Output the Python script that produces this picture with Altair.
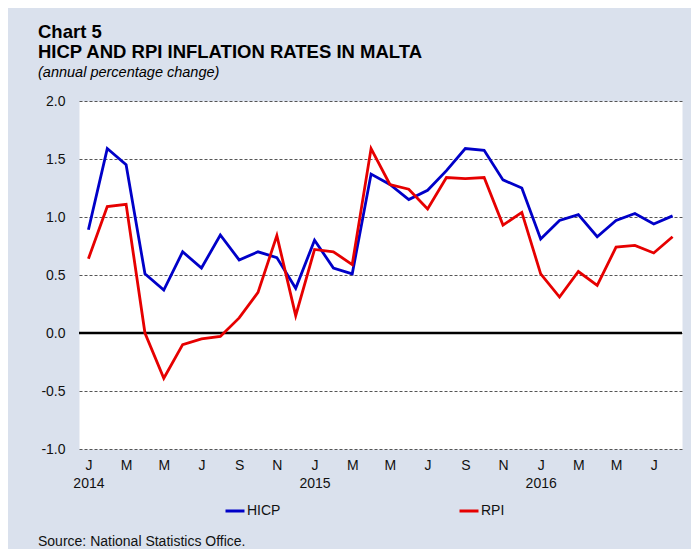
import altair as alt
import pandas as pd

# ---- data ----
MONTH_INDEX = list(range(32))  # Jan 2014 .. Aug 2016
HICP = [0.89, 1.59, 1.45, 0.51, 0.37, 0.70, 0.56, 0.845, 0.63, 0.70, 0.65, 0.385,
        0.80, 0.56, 0.51, 1.37, 1.28, 1.15, 1.23, 1.40, 1.59, 1.575, 1.32, 1.25,
        0.81, 0.97, 1.02, 0.83, 0.97, 1.03, 0.94, 1.01]
RPI = [0.64, 1.09, 1.11, 0.00, -0.39, -0.10, -0.05, -0.03, 0.13, 0.35, 0.84, 0.15,
       0.72, 0.70, 0.59, 1.59, 1.28, 1.24, 1.07, 1.34, 1.33, 1.34, 0.93, 1.04,
       0.51, 0.31, 0.53, 0.41, 0.74, 0.755, 0.69, 0.83]
SERIES = ["HICP", "RPI"]
MONTH_LETTERS = ["J", "F", "M", "A", "M", "J", "J", "A", "S", "O", "N", "D"]
FIRST_YEAR = 2014
X_TICKS = list(range(0, 31, 2))
Y_TICKS = [-1.0, -0.5, 0.0, 0.5, 1.0, 1.5, 2.0]
SOURCE = ["Source: National Statistics Office."]

FONT = "Liberation Sans"
BG = "#dae1ed"

df = pd.DataFrame({
    "m": MONTH_INDEX * 2,
    "value": HICP + RPI,
    "series": [SERIES[0]] * len(HICP) + [SERIES[1]] * len(RPI),
})

letters = "".join(MONTH_LETTERS)
label_expr = (
    f"[substring('{letters}', datum.value % 12, datum.value % 12 + 1), "
    f"datum.value % 12 == 0 ? toString({FIRST_YEAR} + floor(datum.value / 12)) : '']"
)

x_enc = alt.X(
    "m:Q",
    scale=alt.Scale(domain=[-0.5, 31.5], nice=False, zero=False),
    axis=alt.Axis(
        values=X_TICKS, labelExpr=label_expr, title=None, grid=False,
        ticks=False, domain=False, labelFont=FONT, labelFontSize=14,
        labelColor="#111111", labelPadding=9, labelLineHeight=18,
        labelBaseline="top", labelFlush=False, labelOverlap=False,
    ),
)
y_enc = alt.Y(
    "value:Q",
    scale=alt.Scale(domain=[-1, 2], nice=False, zero=False),
    axis=alt.Axis(
        values=Y_TICKS, title=None, ticks=False, domain=False,
        labelExpr="replace(format(datum.value, '.1f'), '\u2212', '-')",
        grid=True, gridColor="#555555", gridDash=[3, 2], gridWidth=1,
        labelFont=FONT, labelFontSize=14, labelColor="#111111", labelPadding=14,
    ),
)

lines = alt.Chart(df).mark_line(strokeWidth=2.8).encode(
    x=x_enc,
    y=y_enc,
    color=alt.Color(
        "series:N",
        scale=alt.Scale(domain=SERIES, range=["#0000c8", "#e60000"]),
        legend=alt.Legend(
            title=None, orient="none", legendX=145, legendY=399,
            direction="horizontal", symbolType="stroke", symbolSize=361,
            symbolStrokeWidth=3, labelOffset=1, columnPadding=172,
            labelFont=FONT, labelFontSize=14, labelColor="#111111",
        ),
    ),
    detail="series:N",
)

zero = alt.Chart(pd.DataFrame({"z": [0.0]})).mark_rule(color="black", strokeWidth=2.5).encode(
    y="z:Q"
)

source = alt.Chart(pd.DataFrame({"t": SOURCE})).mark_text(
    align="left", baseline="alphabetic", font=FONT, fontSize=14, color="#111111"
).encode(text="t:N", x=alt.value(-41), y=alt.value(445))

chart = alt.layer(zero, lines, source).properties(
    width=603,
    height=348,
    padding={"left": 71, "top": 93, "right": 9, "bottom": 100},
    autosize=alt.AutoSizeParams(type="none"),
    background=BG,
    title=alt.TitleParams(
        text=["Chart 5", "HICP AND RPI INFLATION RATES IN MALTA"],
        subtitle="(annual percentage change)",
        anchor="start", frame="group", dx=-41, offset=15,
        font=FONT, fontSize=18.5, fontWeight="bold", lineHeight=20, color="#000000",
        subtitleFont=FONT, subtitleFontSize=14.5, subtitleFontStyle="italic",
        subtitleColor="#000000", subtitlePadding=4,
    ),
).configure_view(fill="white", stroke="transparent")

chart.save("out.html", embed_options={"renderer": "svg", "actions": False})
